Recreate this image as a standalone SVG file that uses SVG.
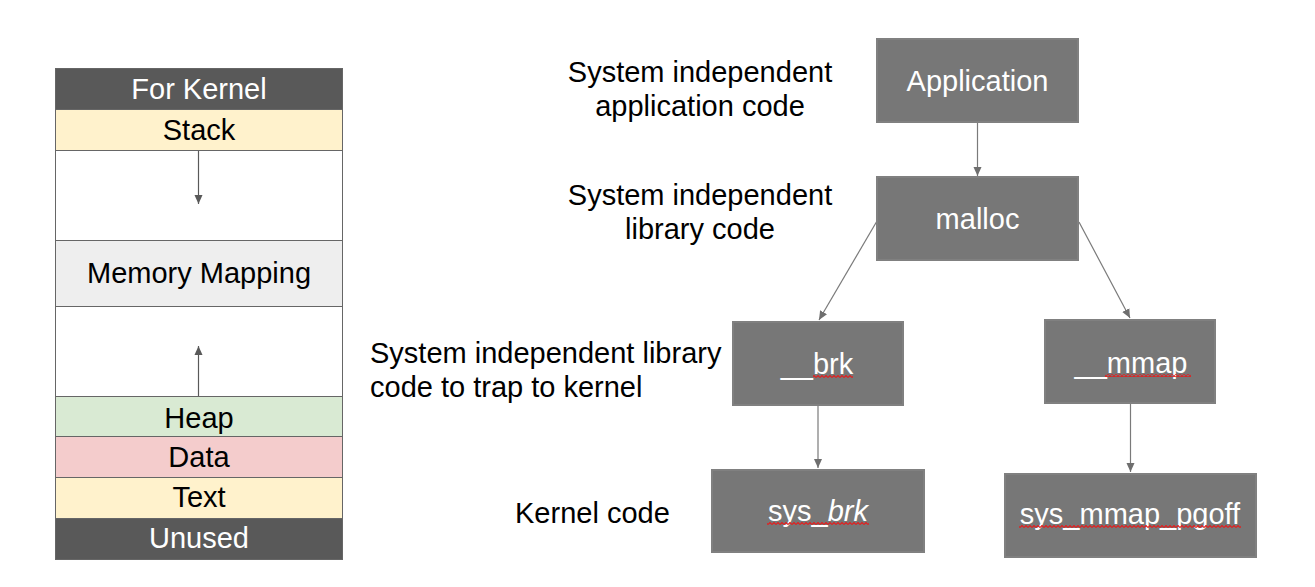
<svg xmlns="http://www.w3.org/2000/svg" width="1315" height="587" viewBox="0 0 1315 587">
<style>
text{font-family:"Liberation Sans",Arial,sans-serif;font-size:29px;}
.c{text-anchor:middle;}
.w{fill:#ffffff;}
.k{fill:#000000;}
.seg{stroke:#666666;stroke-width:1;}
.box{fill:#777777;stroke:#808080;stroke-width:2;}
.ln{stroke:#7a7a7a;stroke-width:1.2;fill:none;}
.sq{fill:url(#wavy);}
</style>
<defs>
<marker id="ah" markerWidth="10" markerHeight="10" refX="9" refY="5" orient="auto" markerUnits="userSpaceOnUse">
<path d="M0,1 L9,5 L0,9 Z" fill="#6e6e6e"/>
</marker>
<marker id="ah2" markerWidth="10" markerHeight="10" refX="9" refY="5" orient="auto" markerUnits="userSpaceOnUse">
<path d="M0,1 L9,5 L0,9 Z" fill="#595959"/>
</marker>
<pattern id="wavy" x="0" y="0" width="4" height="3" patternUnits="userSpaceOnUse">
<path d="M0,2.5 L2,0.5 L4,2.5" stroke="#e02020" stroke-width="1.2" fill="none"/>
</pattern>
</defs>

<g id="memory-layout">
<g id="seg-kernel"><rect class="seg" x="55.5" y="68.5" width="287" height="41" fill="#595959"/><text class="c w" x="199" y="99">For Kernel</text></g>
<g id="seg-stack"><rect class="seg" x="55.5" y="109.5" width="287" height="41" fill="#fff2cc"/><text class="c k" x="199" y="140">Stack</text></g>
<g id="seg-gap1"><rect class="seg" x="55.5" y="150.5" width="287" height="90" fill="#ffffff"/></g>
<g id="seg-mmap"><rect class="seg" x="55.5" y="240.5" width="287" height="66" fill="#eeeeee"/><text class="c k" x="199" y="283">Memory Mapping</text></g>
<g id="seg-gap2"><rect class="seg" x="55.5" y="306.5" width="287" height="90" fill="#ffffff"/></g>
<g id="seg-heap"><rect class="seg" x="55.5" y="396.5" width="287" height="40" fill="#d9ead3"/><text class="c k" x="199" y="428">Heap</text></g>
<g id="seg-data"><rect class="seg" x="55.5" y="436.5" width="287" height="41" fill="#f4cccc"/><text class="c k" x="199" y="467">Data</text></g>
<g id="seg-text"><rect class="seg" x="55.5" y="477.5" width="287" height="41" fill="#fff2cc"/><text class="c k" x="199" y="507">Text</text></g>
<g id="seg-unused"><rect class="seg" x="55.5" y="518.5" width="287" height="41" fill="#595959"/><text class="c w" x="199" y="548">Unused</text></g>
</g>

<g id="labels">
<text class="c k" x="700" y="82">System independent</text>
<text class="c k" x="700" y="116">application code</text>
<text class="c k" x="700" y="205">System independent</text>
<text class="c k" x="700" y="239">library code</text>
<text class="k" x="370" y="363">System independent library</text>
<text class="k" x="370" y="397">code to trap to kernel</text>
<text class="k" x="515" y="523">Kernel code</text>
</g>

<g id="connectors">
<line x1="198.5" y1="151" x2="198.5" y2="204" stroke="#595959" stroke-width="1.2" marker-end="url(#ah2)"/>
<line x1="198.5" y1="396" x2="198.5" y2="346" stroke="#595959" stroke-width="1.2" marker-end="url(#ah2)"/>
<line class="ln" x1="977.5" y1="123" x2="977.5" y2="176" marker-end="url(#ah)"/>
<line class="ln" x1="877" y1="221" x2="819" y2="320" marker-end="url(#ah)"/>
<line class="ln" x1="1079" y1="222" x2="1130" y2="318" marker-end="url(#ah)"/>
<line class="ln" x1="818" y1="406" x2="818" y2="468" marker-end="url(#ah)"/>
<line class="ln" x1="1130.5" y1="404" x2="1130.5" y2="472" marker-end="url(#ah)"/>
</g>

<g id="node-application"><rect class="box" x="877" y="39" width="201" height="83"/><text class="c w" x="977.5" y="91">Application</text></g>
<g id="node-malloc"><rect class="box" x="877" y="177" width="201" height="83"/><text class="c w" x="977.5" y="229">malloc</text></g>
<g id="node-brk"><rect class="box" x="733" y="322" width="170" height="83"/><text class="c w" x="817" y="374">__brk</text><rect class="sq" x="813" y="375" width="40" height="3"/></g>
<g id="node-mmap"><rect class="box" x="1045" y="320" width="170" height="83"/><text class="c w" x="1131" y="373">__mmap</text><rect class="sq" x="1105" y="374" width="86" height="3"/></g>
<g id="node-sys-brk"><rect class="box" x="712" y="470" width="212" height="82"/><text class="c w" x="818" y="521">sys_<tspan font-style="italic">brk</tspan></text><rect class="sq" x="767" y="522" width="102" height="3"/></g>
<g id="node-sys-mmap-pgoff"><rect class="box" x="1005" y="474" width="251" height="83"/><text class="c w" x="1130" y="524">sys_mmap_pgoff</text><rect class="sq" x="1019" y="525" width="222" height="3"/></g>
</svg>
